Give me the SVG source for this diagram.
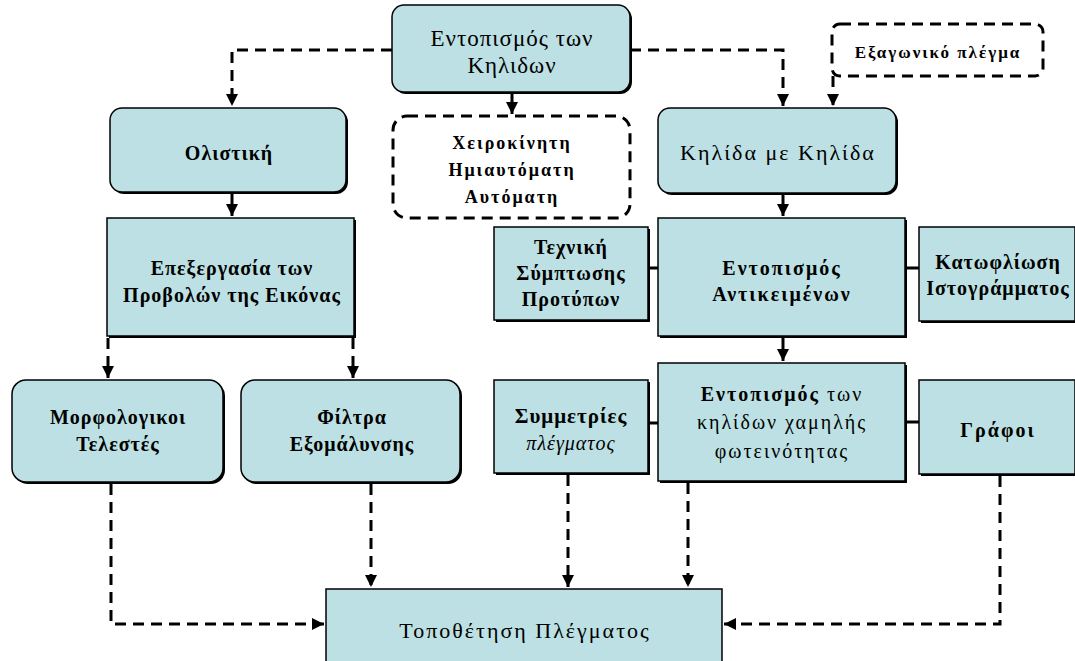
<svg xmlns="http://www.w3.org/2000/svg" width="1075" height="661" viewBox="0 0 1075 661">
<defs>
<style>
.box{fill:#bce0e3;stroke:#000;stroke-width:1.5}
.sh{fill:#000}
.dbox{fill:#fff;stroke:#000;stroke-width:3;stroke-dasharray:11 7}
.t{font-family:"Liberation Serif","Times New Roman",serif;font-size:20px;text-anchor:middle;fill:#000;letter-spacing:1px}
.b{font-weight:bold}
.w2{letter-spacing:2px}
.dash{fill:none;stroke:#000;stroke-width:3;stroke-dasharray:11 7}
.solid{fill:none;stroke:#000;stroke-width:3}
</style>
<marker id="ah" markerWidth="14" markerHeight="14" refX="12" refY="7" orient="auto" markerUnits="userSpaceOnUse">
<path d="M0,1 L12,7 L0,13 Z" fill="#000"/>
</marker>
</defs>
<rect width="1075" height="661" fill="#fff"/>

<g id="connectors">
<path class="dash" d="M392,50 H232 V106" marker-end="url(#ah)"/>
<path class="dash" d="M630,50 H783 V106" marker-end="url(#ah)"/>
<path class="solid" d="M512,92 V114" marker-end="url(#ah)"/>
<path class="dash" d="M833,76 V106" marker-end="url(#ah)"/>
<path class="solid" d="M232,193 V216" marker-end="url(#ah)"/>
<path class="solid" d="M783,194 V216" marker-end="url(#ah)"/>
<path class="solid" d="M783,338 V361" marker-end="url(#ah)"/>
<path class="solid" d="M649,268 H658"/>
<path class="solid" d="M905,268 H919"/>
<path class="solid" d="M649,423 H658"/>
<path class="solid" d="M905,422 H919"/>
<path class="dash" d="M108,338 V378" marker-end="url(#ah)"/>
<path class="dash" d="M353,338 V378" marker-end="url(#ah)"/>
<path class="dash" d="M111,484 V624 H324" marker-end="url(#ah)"/>
<path class="dash" d="M371,484 V587" marker-end="url(#ah)"/>
<path class="dash" d="M568,475 V587" marker-end="url(#ah)"/>
<path class="dash" d="M688,483 V587" marker-end="url(#ah)"/>
<path class="dash" d="M1000,476 V624 H724" marker-end="url(#ah)"/>
</g>

<g id="n-top">
<rect class="sh" x="394" y="7" width="238" height="87" rx="12"/>
<rect class="box" x="392" y="5" width="238" height="87" rx="12"/>
<text class="t" x="512" y="46" style="font-size:23px">Εντοπισμός των</text>
<text class="t" x="512" y="73" style="font-size:23px">Κηλιδων</text>
</g>

<g id="n-olistiki">
<rect class="sh" x="112" y="110" width="236" height="84" rx="12"/>
<rect class="box" x="110" y="108" width="236" height="84" rx="12"/>
<text class="t b" x="229" y="160">Ολιστική</text>
</g>

<g id="n-manual">
<rect class="dbox" x="393" y="116" width="237" height="102" rx="14"/>
<text class="t b w2" x="512" y="149" style="font-size:18px">Χειροκίνητη</text>
<text class="t b w2" x="512" y="176" style="font-size:18px">Ημιαυτόματη</text>
<text class="t b w2" x="512" y="203" style="font-size:18px">Αυτόματη</text>
</g>

<g id="n-blob">
<rect class="sh" x="660" y="110" width="238" height="85" rx="12"/>
<rect class="box" x="658" y="108" width="238" height="85" rx="12"/>
<text class="t w2" x="778" y="160" style="font-size:22px">Κηλίδα με Κηλίδα</text>
</g>

<g id="n-hex">
<rect class="dbox" x="832" y="24" width="211" height="52" rx="8"/>
<text class="t b w2" x="938" y="58" style="font-size:17px">Εξαγωνικό πλέγμα</text>
</g>

<g id="n-proc">
<rect class="sh" x="109" y="220" width="247" height="118"/>
<rect class="box" x="107" y="218" width="247" height="118"/>
<text class="t b" x="232" y="275">Επεξεργασία των</text>
<text class="t b" x="232" y="302">Προβολών της Εικόνας</text>
</g>

<g id="n-template">
<rect class="sh" x="496" y="229" width="154" height="93"/>
<rect class="box" x="494" y="227" width="154" height="93"/>
<text class="t b" x="571" y="254">Τεχνική</text>
<text class="t b" x="571" y="280">Σύμπτωσης</text>
<text class="t b" x="571" y="306">Προτύπων</text>
</g>

<g id="n-objects">
<rect class="sh" x="660" y="220" width="247" height="118"/>
<rect class="box" x="658" y="218" width="247" height="118"/>
<text class="t b w2" x="782" y="275">Εντοπισμός</text>
<text class="t b w2" x="782" y="301">Αντικειμένων</text>
</g>

<g id="n-threshold">
<rect class="sh" x="921" y="229" width="156" height="94"/>
<rect class="box" x="919" y="227" width="156" height="94"/>
<text class="t b" x="998" y="269">Κατωφλίωση</text>
<text class="t b" x="998" y="295">Ιστογράμματος</text>
</g>

<g id="n-morph">
<rect class="sh" x="14" y="382" width="211" height="102" rx="14"/>
<rect class="box" x="12" y="380" width="211" height="102" rx="14"/>
<text class="t b" x="118" y="424">Μορφολογικοι</text>
<text class="t b" x="118" y="451">Τελεστές</text>
</g>

<g id="n-filters">
<rect class="sh" x="243" y="382" width="219" height="102" rx="14"/>
<rect class="box" x="241" y="380" width="219" height="102" rx="14"/>
<text class="t b" x="352" y="424">Φίλτρα</text>
<text class="t b" x="352" y="451">Εξομάλυνσης</text>
</g>

<g id="n-sym">
<rect class="sh" x="496" y="382" width="154" height="93"/>
<rect class="box" x="494" y="380" width="154" height="93"/>
<text class="t b" x="571" y="423" style="font-size:21px">Συμμετρίες</text>
<text class="t" x="571" y="450" style="font-style:italic">πλέγματος</text>
</g>

<g id="n-lowint">
<rect class="sh" x="660" y="365" width="247" height="118"/>
<rect class="box" x="658" y="363" width="247" height="118"/>
<text class="t w2" x="782" y="401"><tspan class="b">Εντοπισμός</tspan> των</text>
<text class="t w2" x="782" y="429">κηλίδων χαμηλής</text>
<text class="t w2" x="782" y="458">φωτεινότητας</text>
</g>

<g id="n-graphs">
<rect class="sh" x="921" y="382" width="156" height="94"/>
<rect class="box" x="919" y="380" width="156" height="94"/>
<text class="t b w2" x="998" y="437">Γράφοι</text>
</g>

<g id="n-grid">
<rect class="box" x="326" y="589" width="396" height="80"/>
<text class="t w2" x="525" y="638" style="font-size:22px">Τοποθέτηση Πλέγματος</text>
</g>
</svg>
